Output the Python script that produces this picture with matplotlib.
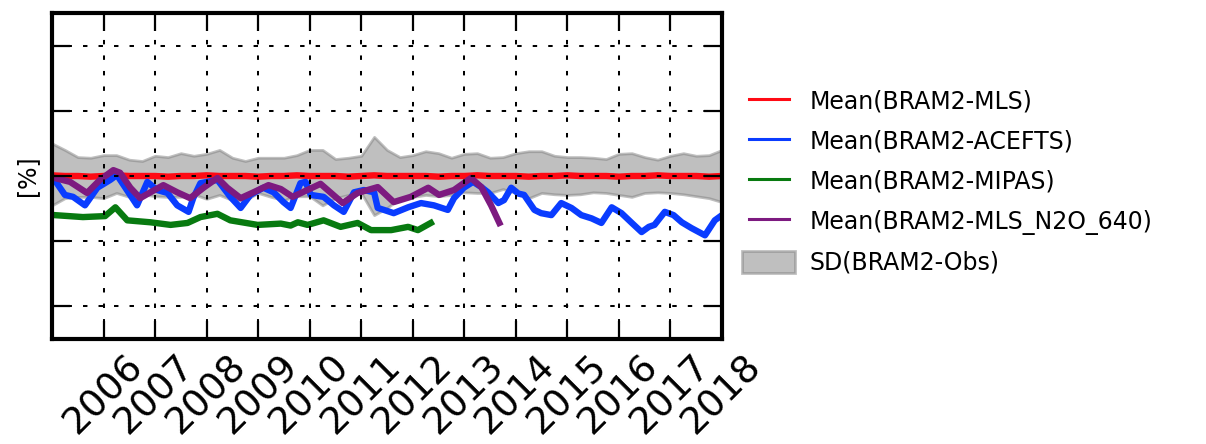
import numpy as np
import matplotlib
matplotlib.use("Agg")
import matplotlib.pyplot as plt
from matplotlib.lines import Line2D
from matplotlib.patches import Patch
from matplotlib.legend_handler import HandlerLine2D

# ---------------- data ----------------
year_ticks = [2006, 2007, 2008, 2009, 2010, 2011, 2012, 2013, 2014, 2015, 2016, 2017, 2018]
year_labels = [str(y) for y in year_ticks]

band_years = np.arange(2005.0, 2018.001, 0.25)
sd_upper = [5.0, 4.0, 2.9, 2.8, 3.2, 3.2, 2.5, 2.3, 3.1, 2.9, 3.5, 3.1, 3.4, 4.0,
            2.8, 2.3, 2.8, 2.8, 2.8, 3.2, 4.0, 4.0, 2.6, 2.8, 3.1, 6.0, 4.0, 2.9,
            3.2, 3.8, 3.5, 2.8, 3.4, 3.5, 2.8, 2.9, 3.5, 3.8, 3.8, 3.1, 2.9, 2.9,
            2.8, 2.6, 3.4, 3.5, 2.9, 2.5, 3.1, 3.5, 3.1, 3.2, 4.0]
sd_lower = [-4.5, -3.4, -3.2, -3.2, -3.4, -2.6, -3.2, -2.8, -3.1, -3.2, -3.2, -2.8,
            -3.5, -2.9, -3.7, -3.7, -2.6, -3.2, -3.7, -3.1, -3.1, -4.5, -3.4, -2.9,
            -2.6, -6.0, -4.9, -3.4, -3.2, -2.9, -3.1, -2.9, -2.5, -2.6, -2.6, -2.0,
            -2.6, -3.4, -2.6, -2.8, -2.9, -2.8, -2.5, -2.6, -2.9, -3.2, -2.6, -2.5,
            -2.6, -2.8, -3.1, -3.4, -4.0]
mls_mean = [0.1, 0.0, 0.0, -0.1, 0.0, 0.1, 0.0, 0.0, 0.0, -0.1, 0.0, 0.0, 0.1,
            0.0, 0.0, 0.0, -0.1, 0.0, 0.0, 0.1, 0.0, 0.0, 0.0, -0.1, 0.0, 0.1,
            0.0, 0.0, 0.0, 0.0, -0.1, 0.0, 0.0, 0.1, 0.0, 0.0, 0.0, -0.1, 0.0,
            0.0, 0.1, 0.0, 0.0, 0.0, -0.1, 0.0, 0.0, 0.1, 0.0, 0.0, 0.0, -0.1, 0.0]

acefts_years = [2005.05, 2005.25, 2005.41, 2005.64, 2005.88, 2006.13, 2006.26, 2006.65,
                2006.85, 2007.04, 2007.24, 2007.43, 2007.65, 2007.74, 2007.88, 2008.21,
                2008.46, 2008.66, 2008.85, 2009.10, 2009.30, 2009.49, 2009.63, 2009.82,
                2009.92, 2010.02, 2010.27, 2010.47, 2010.66, 2010.86, 2011.05, 2011.25,
                2011.32, 2011.44, 2011.63, 2011.91, 2012.16, 2012.41, 2012.68, 2012.80,
                2012.99, 2013.17, 2013.33, 2013.46, 2013.66, 2013.77, 2013.91, 2014.05,
                2014.16, 2014.36, 2014.49, 2014.69, 2014.88, 2015.08, 2015.27, 2015.47,
                2015.66, 2015.86, 2016.05, 2016.25, 2016.44, 2016.58, 2016.69, 2016.89,
                2017.06, 2017.22, 2017.41, 2017.67, 2017.86, 2018.0]
acefts_mean = [-0.6, -2.9, -3.2, -4.5, -1.8, -0.6, 0.15, -4.5,
               -0.9, -2.15, -2.6, -4.5, -5.5, -3.4, -1.1, -0.6,
               -3.2, -4.9, -2.9, -1.8, -2.5, -4.0, -4.9, -1.1,
               -0.9, -2.9, -3.2, -4.5, -5.5, -2.5, -2.15, -2.5,
               -4.9, -5.2, -5.7, -4.8, -4.15, -4.5, -5.2, -3.4,
               -1.8, -0.9, -1.7, -2.5, -4.15, -3.7, -1.8, -2.7,
               -2.9, -5.2, -5.7, -6.0, -4.15, -4.9, -6.0, -6.5,
               -7.2, -4.8, -5.7, -7.2, -8.6, -7.8, -7.5, -5.5,
               -6.0, -7.1, -8.0, -9.1, -6.8, -6.0]

mipas_years = [2005.05, 2005.60, 2006.03, 2006.23, 2006.46, 2006.91, 2007.30, 2007.63,
               2007.88, 2008.21, 2008.46, 2008.99, 2009.44, 2009.63, 2009.77, 2009.96,
               2010.27, 2010.60, 2010.93, 2011.19, 2011.58, 2011.91, 2012.10, 2012.35]
mipas_mean = [-6.0, -6.3, -6.15, -4.8, -6.8, -7.1, -7.5, -7.2,
              -6.3, -5.8, -6.8, -7.5, -7.3, -7.6, -7.1, -7.5,
              -6.8, -7.8, -7.2, -8.3, -8.3, -7.8, -8.3, -7.2]

n2o_years = [2005.05, 2005.35, 2005.68, 2005.93, 2006.19, 2006.32, 2006.52, 2006.71,
             2006.91, 2007.16, 2007.43, 2007.68, 2007.94, 2008.21, 2008.40, 2008.66,
             2008.91, 2009.20, 2009.44, 2009.67, 2010.21, 2010.64, 2010.93, 2011.32,
             2011.63, 2011.96, 2012.30, 2012.51, 2012.80, 2013.13, 2013.33, 2013.52,
             2013.68]
n2o_mean = [-0.3, -0.9, -2.6, -0.6, 0.9, 0.5, -1.8, -3.4,
            -2.5, -1.4, -2.5, -3.4, -1.8, -0.3, -1.8, -3.4,
            -2.5, -1.4, -2.0, -3.2, -1.2, -4.15, -2.6, -1.7,
            -4.0, -3.2, -1.8, -2.9, -2.15, -0.3, -1.7, -4.5,
            -7.2]

# ---------------- figure ----------------
W, H = 1206, 444
fig = plt.figure(figsize=(W / 100, H / 100), dpi=100)
ax = fig.add_axes([52 / W, 1 - 339 / H, 670 / W, 326 / H])

ax.fill_between(band_years, sd_lower, sd_upper, color='gray', alpha=0.5, lw=2, zorder=1)
lw = 4.6
ax.plot(band_years, mls_mean, color='#ff0a14', lw=lw, zorder=2)
ax.plot(acefts_years, acefts_mean, color='#0a3cff', lw=lw, zorder=2)
ax.plot(mipas_years, mipas_mean, color='#087a10', lw=lw, zorder=2)
ax.plot(n2o_years, n2o_mean, color='#7d1a80', lw=lw, zorder=2)

ax.set_xlim(2005, 2018)
ax.set_ylim(-25, 25)
ax.set_yticks([-20, -10, 0, 10, 20])
ax.set_xticks(year_ticks)
ax.set_xticklabels(year_labels, rotation=45, ha='center', fontsize=27)
ax.tick_params(axis='both', which='major', direction='in', length=13, width=1.6,
               top=True, right=True, labelleft=False, pad=7)
ax.set_axisbelow(False)
ax.grid(True, color='black', linestyle=(0, (2.2, 5.5)), linewidth=1.45)
for s in ax.spines.values():
    s.set_linewidth(3)
ax.set_ylabel('[%]', fontsize=17, labelpad=9)

handles = [
    Line2D([], [], color='#ff0a14', lw=2.2),
    Line2D([], [], color='#0a3cff', lw=2.2),
    Line2D([], [], color='#087a10', lw=2.2),
    Line2D([], [], color='#7d1a80', lw=2.2),
    Patch(facecolor='gray', edgecolor='gray', alpha=0.5, lw=2),
]
labels = ['Mean(BRAM2-MLS)', 'Mean(BRAM2-ACEFTS)', 'Mean(BRAM2-MIPAS)',
          'Mean(BRAM2-MLS_N2O_640)', 'SD(BRAM2-Obs)']
hmap = {h: HandlerLine2D(numpoints=2, marker_pad=0.28) for h in handles[:4]}
fig.legend(handles, labels, loc='center left', bbox_to_anchor=(742 / W, 1 - 182 / H),
           bbox_transform=fig.transFigure, frameon=False, fontsize=17,
           borderpad=0, borderaxespad=0, handlelength=2.25, handleheight=1.05,
           handletextpad=0.62, labelspacing=0.68, handler_map=hmap)

fig.savefig('out.png', dpi=100)
